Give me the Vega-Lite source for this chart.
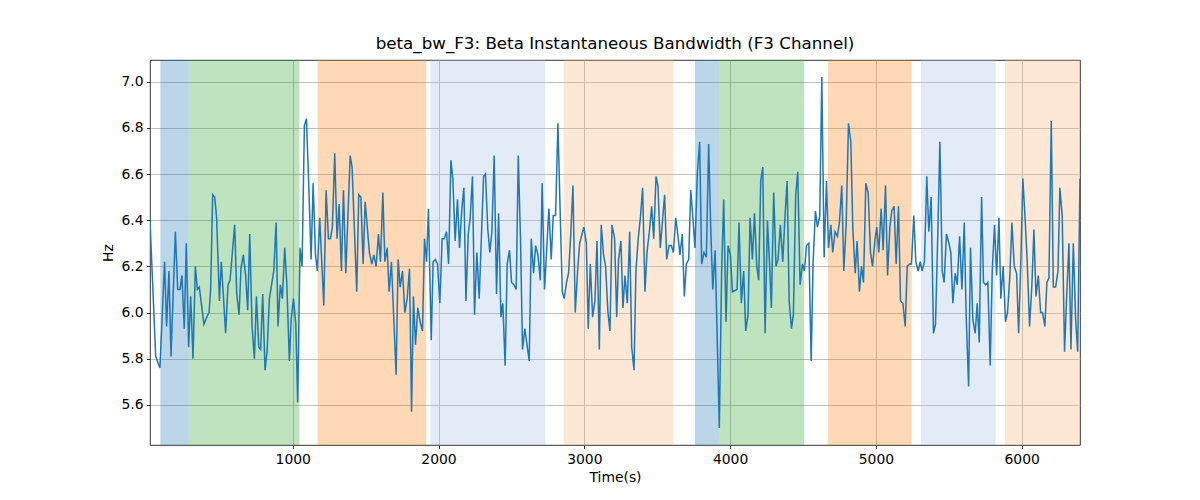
{
  "$schema": "https://vega.github.io/schema/vega-lite/v6.json",
  "width": 930,
  "height": 385,
  "autosize": {"type": "none"},
  "padding": {"left": 150, "top": 60, "right": 120, "bottom": 55},
  "title": {"text": "beta_bw_F3: Beta Instantaneous Bandwidth (F3 Channel)", "offset": 7},
  "datasets": {
    "bands": [
      {"start": 92, "end": 286, "kind": "A"},
      {"start": 286, "end": 1046, "kind": "B"},
      {"start": 1171, "end": 1915, "kind": "C"},
      {"start": 1945, "end": 2732, "kind": "D"},
      {"start": 2858, "end": 3611, "kind": "E"},
      {"start": 3759, "end": 3924, "kind": "A"},
      {"start": 3924, "end": 4508, "kind": "B"},
      {"start": 4670, "end": 5245, "kind": "C"},
      {"start": 5309, "end": 5821, "kind": "D"},
      {"start": 5885, "end": 6400, "kind": "E"}
    ],
    "series": [
      {"t": 21, "v": 6.40}, {"t": 60, "v": 5.81}, {"t": 89, "v": 5.76}, {"t": 121, "v": 6.22}, {"t": 135, "v": 5.94},
      {"t": 151, "v": 6.18}, {"t": 165, "v": 5.81}, {"t": 195, "v": 6.35}, {"t": 211, "v": 6.10}, {"t": 227, "v": 6.10},
      {"t": 240, "v": 6.16}, {"t": 256, "v": 5.93}, {"t": 270, "v": 6.30}, {"t": 286, "v": 5.85}, {"t": 300, "v": 6.07},
      {"t": 316, "v": 5.80}, {"t": 332, "v": 6.20}, {"t": 346, "v": 6.10}, {"t": 359, "v": 6.11}, {"t": 391, "v": 5.95},
      {"t": 417, "v": 5.99}, {"t": 426, "v": 6.00}, {"t": 437, "v": 6.10}, {"t": 451, "v": 6.51}, {"t": 465, "v": 6.50},
      {"t": 478, "v": 6.41}, {"t": 497, "v": 6.05}, {"t": 510, "v": 6.22}, {"t": 540, "v": 5.91}, {"t": 556, "v": 6.12},
      {"t": 570, "v": 6.14}, {"t": 602, "v": 6.38}, {"t": 616, "v": 6.08}, {"t": 632, "v": 5.99}, {"t": 645, "v": 6.19},
      {"t": 661, "v": 6.25}, {"t": 677, "v": 6.16}, {"t": 691, "v": 6.01}, {"t": 705, "v": 6.34}, {"t": 721, "v": 5.94},
      {"t": 737, "v": 5.80}, {"t": 751, "v": 6.07}, {"t": 767, "v": 5.85}, {"t": 780, "v": 5.84}, {"t": 794, "v": 6.08},
      {"t": 810, "v": 5.75}, {"t": 824, "v": 5.83}, {"t": 840, "v": 6.06}, {"t": 870, "v": 6.18}, {"t": 886, "v": 6.39},
      {"t": 899, "v": 5.94}, {"t": 915, "v": 6.12}, {"t": 929, "v": 6.06}, {"t": 945, "v": 6.28}, {"t": 959, "v": 6.13},
      {"t": 977, "v": 5.79}, {"t": 989, "v": 5.97}, {"t": 1005, "v": 6.06}, {"t": 1021, "v": 5.95}, {"t": 1034, "v": 5.61},
      {"t": 1050, "v": 6.28}, {"t": 1064, "v": 6.20}, {"t": 1080, "v": 6.81}, {"t": 1094, "v": 6.84},
      {"t": 1110, "v": 6.55}, {"t": 1126, "v": 6.23}, {"t": 1140, "v": 6.56}, {"t": 1156, "v": 6.25}, {"t": 1169, "v": 6.18},
      {"t": 1185, "v": 6.41}, {"t": 1213, "v": 6.03}, {"t": 1229, "v": 6.53}, {"t": 1245, "v": 6.32}, {"t": 1259, "v": 6.32},
      {"t": 1272, "v": 6.37}, {"t": 1288, "v": 6.69}, {"t": 1304, "v": 6.32}, {"t": 1318, "v": 6.47}, {"t": 1334, "v": 6.18},
      {"t": 1348, "v": 6.53}, {"t": 1364, "v": 6.17}, {"t": 1394, "v": 6.68}, {"t": 1407, "v": 6.63}, {"t": 1439, "v": 6.09},
      {"t": 1453, "v": 6.51}, {"t": 1467, "v": 6.50}, {"t": 1483, "v": 6.21}, {"t": 1497, "v": 6.48}, {"t": 1526, "v": 6.26},
      {"t": 1542, "v": 6.21}, {"t": 1556, "v": 6.25}, {"t": 1572, "v": 6.20}, {"t": 1588, "v": 6.34}, {"t": 1602, "v": 6.22},
      {"t": 1618, "v": 6.52}, {"t": 1632, "v": 6.22}, {"t": 1648, "v": 6.28}, {"t": 1661, "v": 6.09}, {"t": 1677, "v": 6.22},
      {"t": 1709, "v": 5.73}, {"t": 1723, "v": 6.23}, {"t": 1737, "v": 6.11}, {"t": 1753, "v": 6.18}, {"t": 1769, "v": 6.00},
      {"t": 1785, "v": 6.06}, {"t": 1801, "v": 6.19}, {"t": 1815, "v": 5.57}, {"t": 1828, "v": 6.07}, {"t": 1842, "v": 5.86},
      {"t": 1858, "v": 6.02}, {"t": 1874, "v": 5.96}, {"t": 1890, "v": 5.92}, {"t": 1904, "v": 6.32}, {"t": 1918, "v": 6.22},
      {"t": 1931, "v": 6.45}, {"t": 1950, "v": 5.88}, {"t": 1963, "v": 6.22}, {"t": 1979, "v": 6.23}, {"t": 1993, "v": 6.21},
      {"t": 2009, "v": 6.04}, {"t": 2025, "v": 6.32}, {"t": 2039, "v": 6.32}, {"t": 2055, "v": 6.35}, {"t": 2069, "v": 6.21},
      {"t": 2085, "v": 6.66}, {"t": 2098, "v": 6.58}, {"t": 2114, "v": 6.31}, {"t": 2130, "v": 6.49}, {"t": 2144, "v": 6.28},
      {"t": 2160, "v": 6.45}, {"t": 2174, "v": 6.54}, {"t": 2188, "v": 6.05}, {"t": 2204, "v": 6.34}, {"t": 2217, "v": 6.41},
      {"t": 2233, "v": 6.59}, {"t": 2247, "v": 5.99}, {"t": 2263, "v": 6.26}, {"t": 2279, "v": 6.06}, {"t": 2309, "v": 6.59},
      {"t": 2322, "v": 6.60}, {"t": 2338, "v": 6.36}, {"t": 2352, "v": 6.26}, {"t": 2366, "v": 6.35}, {"t": 2382, "v": 6.68},
      {"t": 2398, "v": 6.08}, {"t": 2412, "v": 6.43}, {"t": 2428, "v": 5.98}, {"t": 2441, "v": 6.04}, {"t": 2457, "v": 5.77},
      {"t": 2471, "v": 6.21}, {"t": 2487, "v": 6.27}, {"t": 2501, "v": 6.13}, {"t": 2517, "v": 6.12}, {"t": 2533, "v": 6.10},
      {"t": 2547, "v": 6.68}, {"t": 2563, "v": 6.30}, {"t": 2576, "v": 5.84}, {"t": 2592, "v": 5.93}, {"t": 2622, "v": 5.79},
      {"t": 2636, "v": 6.32}, {"t": 2652, "v": 6.17}, {"t": 2666, "v": 6.29}, {"t": 2682, "v": 6.25}, {"t": 2698, "v": 6.14},
      {"t": 2711, "v": 6.56}, {"t": 2727, "v": 6.10}, {"t": 2741, "v": 6.26}, {"t": 2757, "v": 6.45}, {"t": 2773, "v": 6.23},
      {"t": 2787, "v": 6.42}, {"t": 2803, "v": 6.42}, {"t": 2819, "v": 6.82}, {"t": 2833, "v": 6.47}, {"t": 2849, "v": 6.09},
      {"t": 2862, "v": 6.06}, {"t": 2878, "v": 6.13}, {"t": 2892, "v": 6.17}, {"t": 2908, "v": 6.35}, {"t": 2922, "v": 6.55},
      {"t": 2938, "v": 6.00}, {"t": 2954, "v": 6.18}, {"t": 2968, "v": 6.30}, {"t": 2997, "v": 6.37}, {"t": 3014, "v": 6.30},
      {"t": 3027, "v": 5.93}, {"t": 3041, "v": 6.21}, {"t": 3057, "v": 5.98}, {"t": 3073, "v": 6.05}, {"t": 3087, "v": 6.31},
      {"t": 3103, "v": 5.84}, {"t": 3116, "v": 6.38}, {"t": 3132, "v": 6.25}, {"t": 3146, "v": 6.20}, {"t": 3162, "v": 6.00},
      {"t": 3176, "v": 5.92}, {"t": 3190, "v": 6.38}, {"t": 3208, "v": 6.32}, {"t": 3222, "v": 5.98}, {"t": 3235, "v": 6.23},
      {"t": 3251, "v": 6.31}, {"t": 3265, "v": 6.02}, {"t": 3279, "v": 6.16}, {"t": 3295, "v": 6.04}, {"t": 3311, "v": 6.35},
      {"t": 3325, "v": 5.85}, {"t": 3341, "v": 5.75}, {"t": 3354, "v": 6.18}, {"t": 3370, "v": 6.32}, {"t": 3386, "v": 6.42},
      {"t": 3400, "v": 6.54}, {"t": 3416, "v": 6.09}, {"t": 3430, "v": 6.26}, {"t": 3446, "v": 6.35}, {"t": 3462, "v": 6.46},
      {"t": 3476, "v": 6.32}, {"t": 3492, "v": 6.59}, {"t": 3505, "v": 6.55}, {"t": 3521, "v": 6.28}, {"t": 3551, "v": 6.51},
      {"t": 3565, "v": 6.23}, {"t": 3581, "v": 6.29}, {"t": 3597, "v": 6.29}, {"t": 3611, "v": 6.26}, {"t": 3627, "v": 6.41},
      {"t": 3643, "v": 6.33}, {"t": 3656, "v": 6.25}, {"t": 3672, "v": 6.34}, {"t": 3686, "v": 6.07}, {"t": 3700, "v": 6.21},
      {"t": 3716, "v": 6.23}, {"t": 3730, "v": 6.53}, {"t": 3746, "v": 6.40}, {"t": 3759, "v": 6.28}, {"t": 3775, "v": 6.60},
      {"t": 3791, "v": 6.74}, {"t": 3805, "v": 6.21}, {"t": 3821, "v": 6.26}, {"t": 3837, "v": 6.24}, {"t": 3853, "v": 6.73},
      {"t": 3867, "v": 6.37}, {"t": 3881, "v": 6.10}, {"t": 3897, "v": 6.27}, {"t": 3910, "v": 5.93}, {"t": 3926, "v": 5.50},
      {"t": 3942, "v": 6.18}, {"t": 3956, "v": 6.49}, {"t": 3972, "v": 5.96}, {"t": 3986, "v": 6.29}, {"t": 4002, "v": 6.25},
      {"t": 4016, "v": 6.09}, {"t": 4048, "v": 6.10}, {"t": 4061, "v": 6.39}, {"t": 4077, "v": 6.04}, {"t": 4093, "v": 6.18},
      {"t": 4107, "v": 5.92}, {"t": 4123, "v": 5.99}, {"t": 4137, "v": 6.41}, {"t": 4153, "v": 6.23}, {"t": 4167, "v": 6.43},
      {"t": 4183, "v": 6.20}, {"t": 4196, "v": 6.14}, {"t": 4210, "v": 6.57}, {"t": 4224, "v": 6.63}, {"t": 4240, "v": 5.91},
      {"t": 4256, "v": 6.40}, {"t": 4270, "v": 6.22}, {"t": 4283, "v": 6.02}, {"t": 4299, "v": 6.52}, {"t": 4315, "v": 6.20},
      {"t": 4329, "v": 6.23}, {"t": 4345, "v": 6.38}, {"t": 4361, "v": 6.22}, {"t": 4377, "v": 6.42}, {"t": 4391, "v": 6.57},
      {"t": 4405, "v": 6.05}, {"t": 4421, "v": 5.93}, {"t": 4434, "v": 5.99}, {"t": 4450, "v": 6.51}, {"t": 4464, "v": 6.61},
      {"t": 4480, "v": 6.12}, {"t": 4496, "v": 6.21}, {"t": 4510, "v": 6.18}, {"t": 4524, "v": 6.29}, {"t": 4540, "v": 6.30},
      {"t": 4556, "v": 5.79}, {"t": 4569, "v": 6.21}, {"t": 4585, "v": 6.44}, {"t": 4599, "v": 6.37}, {"t": 4615, "v": 6.42},
      {"t": 4629, "v": 7.02}, {"t": 4645, "v": 6.24}, {"t": 4661, "v": 6.57}, {"t": 4675, "v": 6.28}, {"t": 4691, "v": 6.38},
      {"t": 4704, "v": 6.26}, {"t": 4720, "v": 6.35}, {"t": 4736, "v": 6.33}, {"t": 4750, "v": 6.39}, {"t": 4766, "v": 6.55},
      {"t": 4780, "v": 6.18}, {"t": 4796, "v": 6.38}, {"t": 4812, "v": 6.82}, {"t": 4828, "v": 6.74}, {"t": 4842, "v": 6.36},
      {"t": 4858, "v": 6.17}, {"t": 4871, "v": 6.31}, {"t": 4887, "v": 6.09}, {"t": 4901, "v": 6.20}, {"t": 4915, "v": 6.13},
      {"t": 4931, "v": 6.56}, {"t": 4947, "v": 6.52}, {"t": 4963, "v": 6.26}, {"t": 4977, "v": 6.20}, {"t": 4993, "v": 6.31},
      {"t": 5006, "v": 6.37}, {"t": 5020, "v": 6.26}, {"t": 5036, "v": 6.45}, {"t": 5050, "v": 6.27}, {"t": 5066, "v": 6.55},
      {"t": 5080, "v": 6.16}, {"t": 5096, "v": 6.37}, {"t": 5109, "v": 6.44}, {"t": 5125, "v": 6.46}, {"t": 5139, "v": 6.21},
      {"t": 5155, "v": 6.46}, {"t": 5169, "v": 6.05}, {"t": 5185, "v": 6.04}, {"t": 5201, "v": 5.94}, {"t": 5215, "v": 6.20},
      {"t": 5231, "v": 6.21}, {"t": 5244, "v": 6.21}, {"t": 5260, "v": 6.42}, {"t": 5274, "v": 6.22}, {"t": 5290, "v": 6.18},
      {"t": 5304, "v": 6.22}, {"t": 5317, "v": 6.18}, {"t": 5333, "v": 6.22}, {"t": 5349, "v": 6.59}, {"t": 5363, "v": 6.35},
      {"t": 5379, "v": 6.50}, {"t": 5395, "v": 5.91}, {"t": 5409, "v": 5.95}, {"t": 5425, "v": 6.35}, {"t": 5439, "v": 6.74},
      {"t": 5455, "v": 6.18}, {"t": 5468, "v": 6.13}, {"t": 5484, "v": 6.34}, {"t": 5501, "v": 6.30}, {"t": 5514, "v": 6.26},
      {"t": 5528, "v": 6.04}, {"t": 5544, "v": 6.17}, {"t": 5558, "v": 6.12}, {"t": 5574, "v": 6.33}, {"t": 5590, "v": 6.10},
      {"t": 5606, "v": 6.39}, {"t": 5619, "v": 5.99}, {"t": 5636, "v": 5.68}, {"t": 5649, "v": 6.28}, {"t": 5665, "v": 5.97},
      {"t": 5681, "v": 5.91}, {"t": 5695, "v": 6.04}, {"t": 5709, "v": 5.87}, {"t": 5725, "v": 6.50}, {"t": 5738, "v": 6.13},
      {"t": 5754, "v": 6.12}, {"t": 5768, "v": 6.13}, {"t": 5784, "v": 5.77}, {"t": 5798, "v": 6.18}, {"t": 5814, "v": 6.38},
      {"t": 5828, "v": 6.16}, {"t": 5844, "v": 6.41}, {"t": 5857, "v": 6.06}, {"t": 5873, "v": 6.20}, {"t": 5889, "v": 5.96},
      {"t": 5903, "v": 6.00}, {"t": 5919, "v": 6.16}, {"t": 5933, "v": 6.39}, {"t": 5949, "v": 6.20}, {"t": 5965, "v": 6.17},
      {"t": 5979, "v": 5.91}, {"t": 5995, "v": 6.24}, {"t": 6008, "v": 6.58}, {"t": 6024, "v": 6.40}, {"t": 6038, "v": 6.22},
      {"t": 6054, "v": 5.94}, {"t": 6070, "v": 6.12}, {"t": 6084, "v": 6.36}, {"t": 6098, "v": 6.07}, {"t": 6114, "v": 6.16},
      {"t": 6130, "v": 6.00}, {"t": 6143, "v": 6.00}, {"t": 6159, "v": 5.94}, {"t": 6173, "v": 6.13}, {"t": 6187, "v": 6.15},
      {"t": 6203, "v": 6.83}, {"t": 6217, "v": 6.11}, {"t": 6233, "v": 6.11}, {"t": 6249, "v": 6.18}, {"t": 6262, "v": 6.54},
      {"t": 6278, "v": 6.42}, {"t": 6294, "v": 5.83}, {"t": 6308, "v": 6.06}, {"t": 6324, "v": 6.30}, {"t": 6338, "v": 5.84},
      {"t": 6354, "v": 6.30}, {"t": 6370, "v": 5.97}, {"t": 6384, "v": 5.83}, {"t": 6400, "v": 6.58}
    ]
  },
  "layer": [
    {
      "data": {"name": "bands"},
      "mark": {"type": "rect", "opacity": 0.3, "clip": true},
      "encoding": {
        "x": {"field": "start", "type": "quantitative", "scale": {"domain": [21, 6400], "nice": false, "zero": false},
              "axis": {"title": "Time(s)", "values": [1000, 2000, 3000, 4000, 5000, 6000], "format": "d"}},
        "x2": {"field": "end"},
        "color": {"field": "kind", "type": "nominal", "legend": null,
                  "scale": {"domain": ["A", "B", "C", "D", "E"], "range": ["#1f77b4", "#2ca02c", "#ff7f0e", "#a2bde1", "#f8b273"]}}
      }
    },
    {
      "data": {"name": "series"},
      "mark": {"type": "line", "color": "#1f77b4", "strokeWidth": 1.5, "clip": true},
      "encoding": {
        "x": {"field": "t", "type": "quantitative"},
        "y": {"field": "v", "type": "quantitative", "scale": {"domain": [5.426, 7.094], "nice": false, "zero": false},
              "axis": {"title": "Hz", "values": [5.6, 5.8, 6.0, 6.2, 6.4, 6.6, 6.8, 7.0], "format": ".1f"}}
      }
    }
  ],
  "config": {
    "font": "DejaVu Sans",
    "view": {"stroke": "#000000", "strokeWidth": 0.8},
    "axis": {
      "grid": true, "gridColor": "#b0b0b0", "gridWidth": 0.8, "domain": false,
      "tickColor": "#000000", "tickSize": 3.5, "tickWidth": 0.8,
      "labelFont": "DejaVu Sans", "labelFontSize": 13.9, "labelColor": "#000000", "labelPadding": 3.5,
      "titleFont": "DejaVu Sans", "titleFontSize": 13.9, "titleFontWeight": "normal", "titleColor": "#000000", "titlePadding": 5
    },
    "title": {"font": "DejaVu Sans", "fontSize": 16.7, "fontWeight": "normal", "color": "#000000", "anchor": "middle"}
  }
}
